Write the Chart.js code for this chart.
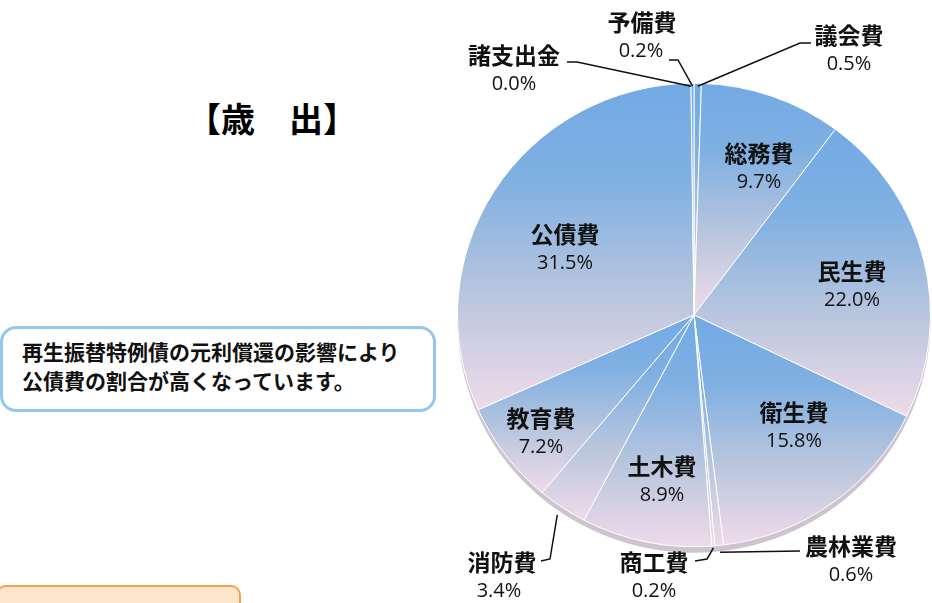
<!DOCTYPE html>
<html lang="ja">
<head>
<meta charset="utf-8">
<script src="https://cdn.jsdelivr.net/npm/chart.js@4.4.1/dist/chart.umd.min.js"></script>
<style>
  html, body { margin: 0; padding: 0; background: #fff; }
  body { width: 932px; height: 603px; position: relative; overflow: hidden; font-family: "Noto Sans CJK JP", sans-serif; }
  #pie { position: absolute; left: 0; top: 0; }
  .title { position: absolute; left: 172px; top: 96px; width: 200px; text-align: center; font-size: 34px; font-weight: bold; line-height: 44px; }
  .note { position: absolute; left: 0; top: 326px; width: 436px; height: 86px; box-sizing: border-box; border: 3px solid #94c6f4; border-radius: 16px; background: #fff; padding: 8px 0 0 19px; font-size: 21px; font-weight: bold; line-height: 29px; color: #111; }
  .memo { position: absolute; left: -4px; top: 585px; width: 245px; height: 40px; box-sizing: border-box; border: 2px solid #f6a04c; border-radius: 10px; background: #fde5cd; }
</style>
</head>
<body>
<div class="title">【歳　出】</div>
<div class="note">再生振替特例債の元利償還の影響により<br>公債費の割合が高くなっています。</div>
<div class="memo"></div>
<canvas id="pie" width="932" height="603"></canvas>
<script>
const categories = ['議会費', '総務費', '民生費', '衛生費', '農林業費', '商工費', '土木費', '消防費', '教育費', '公債費', '諸支出金', '予備費'];
const shares = [0.5, 9.7, 22.0, 15.8, 0.6, 0.2, 8.9, 3.4, 7.2, 31.5, 0.0, 0.2];

// label spots (name centre), leader elbows, and how far past the rim the leader ends
const labelLayout = [
    { x: 849, y: 35, leader: [[811, 43], [800, 43]], reach: -3 },
    { x: 759, y: 153 },
    { x: 852, y: 271 },
    { x: 794, y: 412 },
    { x: 851, y: 546, leader: [[800, 551]], reach: 7 },
    { x: 654, y: 562, leader: [[695, 561], [707, 559]], reach: 2 },
    { x: 662, y: 466 },
    { x: 502, y: 562, px: 499, leader: [[541, 561], [550, 559]], reach: 9 },
    { x: 541, y: 418 },
    { x: 565, y: 234 },
    { x: 514, y: 55, leader: [[567, 62], [577, 62]], reach: -3 },
    { x: 642, y: 22, px: 641, leader: [[669, 60], [678, 60]], reach: -3 }
];

const SQUASH = 0.98; // slight tilt of the pie

const pieDecor = {
    id: 'pieDecor',
    beforeDatasetsDraw(chart) {
        const ctx = chart.ctx;
        const meta = chart.getDatasetMeta(0);
        const first = meta.data[0];

        ctx.save();
        ctx.translate(first.x, first.y);
        ctx.scale(1, SQUASH);
        ctx.translate(-first.x, -first.y);

        // thin 3D rim under the pie
        ctx.beginPath();
        ctx.arc(first.x, first.y + 6, first.outerRadius, 0, Math.PI * 2);
        ctx.fillStyle = '#cdc4d0';
        ctx.fill();

        // each slice: blue at the top of its box, pink at the bottom
        meta.data.forEach(arc => {
            const { x, y, startAngle, endAngle, outerRadius: r } = arc;
            const ys = [y, y + r * Math.sin(startAngle), y + r * Math.sin(endAngle)];
            [-Math.PI / 2, Math.PI / 2, Math.PI * 1.5].forEach(t => {
                if (t >= startAngle && t <= endAngle) ys.push(y + r * Math.sin(t));
            });
            const top = Math.min(...ys);
            const bot = Math.max(Math.max(...ys), top + 1);
            const g = ctx.createLinearGradient(0, top, 0, bot);
            g.addColorStop(0, '#72aae5');
            g.addColorStop(0.3, '#80b0e2');
            g.addColorStop(0.65, '#b9c6de');
            g.addColorStop(1, '#efdbe9');
            arc.options.backgroundColor = g;
        });
    },
    afterDatasetsDraw(chart) {
        const ctx = chart.ctx;
        ctx.restore();
        const meta = chart.getDatasetMeta(0);
        ctx.save();
        ctx.textAlign = 'center';
        ctx.textBaseline = 'middle';
        ctx.fillStyle = '#111';
        ctx.strokeStyle = '#111';
        ctx.lineWidth = 1.5;
        labelLayout.forEach((L, i) => {
            ctx.font = 'bold 23px "Noto Sans CJK JP"';
            ctx.fillText(categories[i], L.x, L.y);
            ctx.font = '20px "Open Sans"';
            ctx.fillText(shares[i].toFixed(1) + '%', L.px || L.x, L.y + 29);
            if (L.leader) {
                const arc = meta.data[i];
                const mid = (arc.startAngle + arc.endAngle) / 2;
                const rr = arc.outerRadius + L.reach;
                ctx.beginPath();
                ctx.moveTo(L.leader[0][0], L.leader[0][1]);
                L.leader.slice(1).forEach(p => ctx.lineTo(p[0], p[1]));
                ctx.lineTo(arc.x + rr * Math.cos(mid), arc.y + rr * Math.sin(mid) * SQUASH);
                ctx.stroke();
            }
        });
        ctx.restore();
    }
};

new Chart(document.getElementById('pie'), {
    type: 'pie',
    data: {
        labels: categories,
        datasets: [{
            data: shares,
            backgroundColor: () => '#9dbde3',
            borderColor: '#ffffff',
            borderWidth: 1
        }]
    },
    options: {
        responsive: false,
        animation: false,
        devicePixelRatio: 1,
        layout: { padding: { left: 457, right: 1, top: 78, bottom: 51 } },
        plugins: { legend: { display: false }, tooltip: { enabled: false } }
    },
    plugins: [pieDecor]
});
</script>
</body>
</html>
